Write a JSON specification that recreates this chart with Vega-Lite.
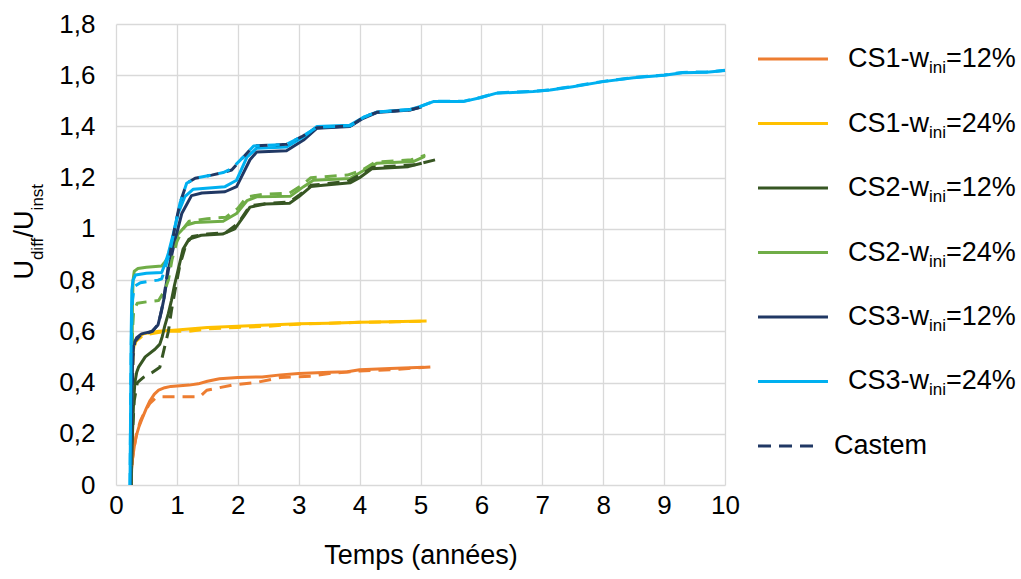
{
"$schema": "https://vega.github.io/schema/vega-lite/v6.json",
"width": 609, "height": 461,
"autosize": {"type": "none"},
"padding": {"left": 116, "top": 24, "right": 296, "bottom": 94},
"background": "white",
"config": {"view": {"stroke": null}, "font": "Liberation Sans"},
"datasets": {
"curves": [
{"s":"CS1-12","m":"CS","t":0.24,"v":0},{"s":"CS1-12","m":"CS","t":0.25,"v":0.05},{"s":"CS1-12","m":"CS","t":0.27,"v":0.1},{"s":"CS1-12","m":"CS","t":0.3,"v":0.15},{"s":"CS1-12","m":"CS","t":0.33,"v":0.19},{"s":"CS1-12","m":"CS","t":0.38,"v":0.23},{"s":"CS1-12","m":"CS","t":0.43,"v":0.26},{"s":"CS1-12","m":"CS","t":0.5,"v":0.3},{"s":"CS1-12","m":"CS","t":0.56,"v":0.33},{"s":"CS1-12","m":"CS","t":0.63,"v":0.355},{"s":"CS1-12","m":"CS","t":0.7,"v":0.37},{"s":"CS1-12","m":"CS","t":0.8,"v":0.38},{"s":"CS1-12","m":"CS","t":0.9,"v":0.385},{"s":"CS1-12","m":"CS","t":1.2,"v":0.39},{"s":"CS1-12","m":"CS","t":1.35,"v":0.395},{"s":"CS1-12","m":"CS","t":1.5,"v":0.405},{"s":"CS1-12","m":"CS","t":1.7,"v":0.415},{"s":"CS1-12","m":"CS","t":2.0,"v":0.42},{"s":"CS1-12","m":"CS","t":2.4,"v":0.422},{"s":"CS1-12","m":"CS","t":2.7,"v":0.43},{"s":"CS1-12","m":"CS","t":3.0,"v":0.435},{"s":"CS1-12","m":"CS","t":3.5,"v":0.44},{"s":"CS1-12","m":"CS","t":3.8,"v":0.442},{"s":"CS1-12","m":"CS","t":4.0,"v":0.45},{"s":"CS1-12","m":"CS","t":4.5,"v":0.455},{"s":"CS1-12","m":"CS","t":5.05,"v":0.46},
{"s":"CS1-24","m":"CS","t":0.24,"v":0},{"s":"CS1-24","m":"CS","t":0.25,"v":0.2},{"s":"CS1-24","m":"CS","t":0.26,"v":0.4},{"s":"CS1-24","m":"CS","t":0.27,"v":0.5},{"s":"CS1-24","m":"CS","t":0.3,"v":0.55},{"s":"CS1-24","m":"CS","t":0.36,"v":0.575},{"s":"CS1-24","m":"CS","t":0.45,"v":0.59},{"s":"CS1-24","m":"CS","t":0.7,"v":0.6},{"s":"CS1-24","m":"CS","t":1.0,"v":0.605},{"s":"CS1-24","m":"CS","t":1.5,"v":0.615},{"s":"CS1-24","m":"CS","t":2.0,"v":0.62},{"s":"CS1-24","m":"CS","t":2.5,"v":0.625},{"s":"CS1-24","m":"CS","t":3.0,"v":0.63},{"s":"CS1-24","m":"CS","t":3.5,"v":0.632},{"s":"CS1-24","m":"CS","t":4.0,"v":0.635},{"s":"CS1-24","m":"CS","t":4.5,"v":0.637},{"s":"CS1-24","m":"CS","t":5.1,"v":0.64},
{"s":"CS2-12","m":"CS","t":0.25,"v":0},{"s":"CS2-12","m":"CS","t":0.27,"v":0.2},{"s":"CS2-12","m":"CS","t":0.29,"v":0.33},{"s":"CS2-12","m":"CS","t":0.31,"v":0.4},{"s":"CS2-12","m":"CS","t":0.34,"v":0.44},{"s":"CS2-12","m":"CS","t":0.37,"v":0.46},{"s":"CS2-12","m":"CS","t":0.48,"v":0.5},{"s":"CS2-12","m":"CS","t":0.64,"v":0.53},{"s":"CS2-12","m":"CS","t":0.72,"v":0.55},{"s":"CS2-12","m":"CS","t":0.76,"v":0.58},{"s":"CS2-12","m":"CS","t":0.8,"v":0.62},{"s":"CS2-12","m":"CS","t":0.86,"v":0.67},{"s":"CS2-12","m":"CS","t":0.91,"v":0.72},{"s":"CS2-12","m":"CS","t":0.96,"v":0.78},{"s":"CS2-12","m":"CS","t":1.02,"v":0.84},{"s":"CS2-12","m":"CS","t":1.1,"v":0.92},{"s":"CS2-12","m":"CS","t":1.2,"v":0.96},{"s":"CS2-12","m":"CS","t":1.4,"v":0.975},{"s":"CS2-12","m":"CS","t":1.75,"v":0.98},{"s":"CS2-12","m":"CS","t":1.95,"v":1.0},{"s":"CS2-12","m":"CS","t":2.1,"v":1.05},{"s":"CS2-12","m":"CS","t":2.2,"v":1.085},{"s":"CS2-12","m":"CS","t":2.45,"v":1.097},{"s":"CS2-12","m":"CS","t":2.85,"v":1.1},{"s":"CS2-12","m":"CS","t":3.0,"v":1.125},{"s":"CS2-12","m":"CS","t":3.2,"v":1.165},{"s":"CS2-12","m":"CS","t":3.4,"v":1.17},{"s":"CS2-12","m":"CS","t":3.85,"v":1.18},{"s":"CS2-12","m":"CS","t":4.0,"v":1.2},{"s":"CS2-12","m":"CS","t":4.2,"v":1.235},{"s":"CS2-12","m":"CS","t":4.8,"v":1.243},{"s":"CS2-12","m":"CS","t":5.02,"v":1.256},
{"s":"CS2-24","m":"CS","t":0.24,"v":0},{"s":"CS2-24","m":"CS","t":0.26,"v":0.4},{"s":"CS2-24","m":"CS","t":0.27,"v":0.7},{"s":"CS2-24","m":"CS","t":0.28,"v":0.8},{"s":"CS2-24","m":"CS","t":0.3,"v":0.835},{"s":"CS2-24","m":"CS","t":0.36,"v":0.845},{"s":"CS2-24","m":"CS","t":0.5,"v":0.85},{"s":"CS2-24","m":"CS","t":0.75,"v":0.855},{"s":"CS2-24","m":"CS","t":0.8,"v":0.87},{"s":"CS2-24","m":"CS","t":0.86,"v":0.89},{"s":"CS2-24","m":"CS","t":0.94,"v":0.94},{"s":"CS2-24","m":"CS","t":1.02,"v":0.98},{"s":"CS2-24","m":"CS","t":1.16,"v":1.015},{"s":"CS2-24","m":"CS","t":1.3,"v":1.025},{"s":"CS2-24","m":"CS","t":1.76,"v":1.03},{"s":"CS2-24","m":"CS","t":1.98,"v":1.06},{"s":"CS2-24","m":"CS","t":2.15,"v":1.11},{"s":"CS2-24","m":"CS","t":2.31,"v":1.125},{"s":"CS2-24","m":"CS","t":2.86,"v":1.127},{"s":"CS2-24","m":"CS","t":3.08,"v":1.165},{"s":"CS2-24","m":"CS","t":3.24,"v":1.19},{"s":"CS2-24","m":"CS","t":3.84,"v":1.197},{"s":"CS2-24","m":"CS","t":4.06,"v":1.227},{"s":"CS2-24","m":"CS","t":4.28,"v":1.256},{"s":"CS2-24","m":"CS","t":4.88,"v":1.263},{"s":"CS2-24","m":"CS","t":5.07,"v":1.283},
{"s":"CS3-12","m":"CS","t":0.24,"v":0},{"s":"CS3-12","m":"CS","t":0.25,"v":0.15},{"s":"CS3-12","m":"CS","t":0.26,"v":0.35},{"s":"CS3-12","m":"CS","t":0.27,"v":0.47},{"s":"CS3-12","m":"CS","t":0.29,"v":0.55},{"s":"CS3-12","m":"CS","t":0.34,"v":0.575},{"s":"CS3-12","m":"CS","t":0.42,"v":0.59},{"s":"CS3-12","m":"CS","t":0.59,"v":0.6},{"s":"CS3-12","m":"CS","t":0.69,"v":0.625},{"s":"CS3-12","m":"CS","t":0.75,"v":0.683},{"s":"CS3-12","m":"CS","t":0.79,"v":0.73},{"s":"CS3-12","m":"CS","t":0.86,"v":0.84},{"s":"CS3-12","m":"CS","t":0.97,"v":0.957},{"s":"CS3-12","m":"CS","t":1.08,"v":1.06},{"s":"CS3-12","m":"CS","t":1.24,"v":1.13},{"s":"CS3-12","m":"CS","t":1.41,"v":1.14},{"s":"CS3-12","m":"CS","t":1.79,"v":1.145},{"s":"CS3-12","m":"CS","t":1.98,"v":1.165},{"s":"CS3-12","m":"CS","t":2.2,"v":1.27},{"s":"CS3-12","m":"CS","t":2.31,"v":1.3},{"s":"CS3-12","m":"CS","t":2.8,"v":1.305},{"s":"CS3-12","m":"CS","t":3.08,"v":1.347},{"s":"CS3-12","m":"CS","t":3.3,"v":1.393},{"s":"CS3-12","m":"CS","t":3.84,"v":1.4},{"s":"CS3-12","m":"CS","t":4.06,"v":1.432},{"s":"CS3-12","m":"CS","t":4.28,"v":1.454},{"s":"CS3-12","m":"CS","t":4.83,"v":1.464},{"s":"CS3-12","m":"CS","t":5.02,"v":1.477},
{"s":"CS3-24","m":"CS","t":0.23,"v":0},{"s":"CS3-24","m":"CS","t":0.24,"v":0.3},{"s":"CS3-24","m":"CS","t":0.25,"v":0.6},{"s":"CS3-24","m":"CS","t":0.26,"v":0.76},{"s":"CS3-24","m":"CS","t":0.28,"v":0.8},{"s":"CS3-24","m":"CS","t":0.32,"v":0.82},{"s":"CS3-24","m":"CS","t":0.5,"v":0.827},{"s":"CS3-24","m":"CS","t":0.75,"v":0.83},{"s":"CS3-24","m":"CS","t":0.8,"v":0.86},{"s":"CS3-24","m":"CS","t":0.86,"v":0.905},{"s":"CS3-24","m":"CS","t":0.94,"v":0.98},{"s":"CS3-24","m":"CS","t":1.02,"v":1.06},{"s":"CS3-24","m":"CS","t":1.13,"v":1.126},{"s":"CS3-24","m":"CS","t":1.27,"v":1.155},{"s":"CS3-24","m":"CS","t":1.79,"v":1.165},{"s":"CS3-24","m":"CS","t":1.98,"v":1.19},{"s":"CS3-24","m":"CS","t":2.15,"v":1.28},{"s":"CS3-24","m":"CS","t":2.31,"v":1.315},{"s":"CS3-24","m":"CS","t":2.8,"v":1.32},{"s":"CS3-24","m":"CS","t":3.08,"v":1.36},{"s":"CS3-24","m":"CS","t":3.3,"v":1.4},{"s":"CS3-24","m":"CS","t":3.84,"v":1.405},{"s":"CS3-24","m":"CS","t":4.06,"v":1.435},{"s":"CS3-24","m":"CS","t":4.28,"v":1.456},{"s":"CS3-24","m":"CS","t":4.83,"v":1.466},{"s":"CS3-24","m":"CS","t":5.0,"v":1.478},{"s":"CS3-24","m":"CS","t":5.21,"v":1.497},{"s":"CS3-24","m":"CS","t":5.7,"v":1.497},{"s":"CS3-24","m":"CS","t":5.98,"v":1.512},{"s":"CS3-24","m":"CS","t":6.25,"v":1.53},{"s":"CS3-24","m":"CS","t":6.85,"v":1.536},{"s":"CS3-24","m":"CS","t":7.13,"v":1.542},{"s":"CS3-24","m":"CS","t":7.5,"v":1.555},{"s":"CS3-24","m":"CS","t":8.0,"v":1.575},{"s":"CS3-24","m":"CS","t":8.5,"v":1.59},{"s":"CS3-24","m":"CS","t":9.0,"v":1.6},{"s":"CS3-24","m":"CS","t":9.3,"v":1.61},{"s":"CS3-24","m":"CS","t":9.7,"v":1.612},{"s":"CS3-24","m":"CS","t":10,"v":1.618},
{"s":"CS1-12","m":"Castem","t":0.24,"v":0},{"s":"CS1-12","m":"Castem","t":0.25,"v":0.05},{"s":"CS1-12","m":"Castem","t":0.27,"v":0.1},{"s":"CS1-12","m":"Castem","t":0.3,"v":0.15},{"s":"CS1-12","m":"Castem","t":0.34,"v":0.2},{"s":"CS1-12","m":"Castem","t":0.4,"v":0.25},{"s":"CS1-12","m":"Castem","t":0.48,"v":0.29},{"s":"CS1-12","m":"Castem","t":0.56,"v":0.32},{"s":"CS1-12","m":"Castem","t":0.65,"v":0.34},{"s":"CS1-12","m":"Castem","t":0.75,"v":0.345},{"s":"CS1-12","m":"Castem","t":1.38,"v":0.345},{"s":"CS1-12","m":"Castem","t":1.49,"v":0.37},{"s":"CS1-12","m":"Castem","t":1.7,"v":0.38},{"s":"CS1-12","m":"Castem","t":1.9,"v":0.39},{"s":"CS1-12","m":"Castem","t":2.3,"v":0.4},{"s":"CS1-12","m":"Castem","t":2.7,"v":0.42},{"s":"CS1-12","m":"Castem","t":3.2,"v":0.425},{"s":"CS1-12","m":"Castem","t":3.5,"v":0.435},{"s":"CS1-12","m":"Castem","t":4.0,"v":0.445},{"s":"CS1-12","m":"Castem","t":4.5,"v":0.45},{"s":"CS1-12","m":"Castem","t":4.8,"v":0.455},{"s":"CS1-12","m":"Castem","t":5.25,"v":0.462},
{"s":"CS1-24","m":"Castem","t":0.24,"v":0},{"s":"CS1-24","m":"Castem","t":0.26,"v":0.3},{"s":"CS1-24","m":"Castem","t":0.28,"v":0.5},{"s":"CS1-24","m":"Castem","t":0.32,"v":0.56},{"s":"CS1-24","m":"Castem","t":0.45,"v":0.585},{"s":"CS1-24","m":"Castem","t":0.8,"v":0.6},{"s":"CS1-24","m":"Castem","t":1.2,"v":0.6},{"s":"CS1-24","m":"Castem","t":1.5,"v":0.61},{"s":"CS1-24","m":"Castem","t":2.0,"v":0.615},{"s":"CS1-24","m":"Castem","t":2.5,"v":0.62},{"s":"CS1-24","m":"Castem","t":3.0,"v":0.628},{"s":"CS1-24","m":"Castem","t":3.5,"v":0.632},{"s":"CS1-24","m":"Castem","t":4.0,"v":0.635},{"s":"CS1-24","m":"Castem","t":4.6,"v":0.637},{"s":"CS1-24","m":"Castem","t":5.1,"v":0.64},
{"s":"CS2-12","m":"Castem","t":0.25,"v":0},{"s":"CS2-12","m":"Castem","t":0.27,"v":0.2},{"s":"CS2-12","m":"Castem","t":0.3,"v":0.33},{"s":"CS2-12","m":"Castem","t":0.35,"v":0.4},{"s":"CS2-12","m":"Castem","t":0.45,"v":0.42},{"s":"CS2-12","m":"Castem","t":0.6,"v":0.44},{"s":"CS2-12","m":"Castem","t":0.72,"v":0.46},{"s":"CS2-12","m":"Castem","t":0.8,"v":0.54},{"s":"CS2-12","m":"Castem","t":0.86,"v":0.6},{"s":"CS2-12","m":"Castem","t":0.91,"v":0.68},{"s":"CS2-12","m":"Castem","t":0.97,"v":0.76},{"s":"CS2-12","m":"Castem","t":1.05,"v":0.86},{"s":"CS2-12","m":"Castem","t":1.15,"v":0.94},{"s":"CS2-12","m":"Castem","t":1.25,"v":0.97},{"s":"CS2-12","m":"Castem","t":1.5,"v":0.98},{"s":"CS2-12","m":"Castem","t":1.8,"v":0.985},{"s":"CS2-12","m":"Castem","t":2.0,"v":1.02},{"s":"CS2-12","m":"Castem","t":2.2,"v":1.09},{"s":"CS2-12","m":"Castem","t":2.5,"v":1.1},{"s":"CS2-12","m":"Castem","t":2.85,"v":1.105},{"s":"CS2-12","m":"Castem","t":3.0,"v":1.13},{"s":"CS2-12","m":"Castem","t":3.2,"v":1.17},{"s":"CS2-12","m":"Castem","t":3.8,"v":1.185},{"s":"CS2-12","m":"Castem","t":4.0,"v":1.21},{"s":"CS2-12","m":"Castem","t":4.2,"v":1.24},{"s":"CS2-12","m":"Castem","t":4.9,"v":1.25},{"s":"CS2-12","m":"Castem","t":5.25,"v":1.27},
{"s":"CS2-24","m":"Castem","t":0.24,"v":0},{"s":"CS2-24","m":"Castem","t":0.26,"v":0.3},{"s":"CS2-24","m":"Castem","t":0.27,"v":0.6},{"s":"CS2-24","m":"Castem","t":0.29,"v":0.68},{"s":"CS2-24","m":"Castem","t":0.35,"v":0.71},{"s":"CS2-24","m":"Castem","t":0.5,"v":0.715},{"s":"CS2-24","m":"Castem","t":0.7,"v":0.72},{"s":"CS2-24","m":"Castem","t":0.8,"v":0.76},{"s":"CS2-24","m":"Castem","t":0.86,"v":0.8},{"s":"CS2-24","m":"Castem","t":0.92,"v":0.88},{"s":"CS2-24","m":"Castem","t":1.0,"v":0.95},{"s":"CS2-24","m":"Castem","t":1.1,"v":1.0},{"s":"CS2-24","m":"Castem","t":1.2,"v":1.03},{"s":"CS2-24","m":"Castem","t":1.5,"v":1.04},{"s":"CS2-24","m":"Castem","t":1.8,"v":1.045},{"s":"CS2-24","m":"Castem","t":2.0,"v":1.08},{"s":"CS2-24","m":"Castem","t":2.15,"v":1.125},{"s":"CS2-24","m":"Castem","t":2.4,"v":1.135},{"s":"CS2-24","m":"Castem","t":2.85,"v":1.14},{"s":"CS2-24","m":"Castem","t":3.05,"v":1.17},{"s":"CS2-24","m":"Castem","t":3.2,"v":1.2},{"s":"CS2-24","m":"Castem","t":3.8,"v":1.21},{"s":"CS2-24","m":"Castem","t":4.05,"v":1.23},{"s":"CS2-24","m":"Castem","t":4.25,"v":1.26},{"s":"CS2-24","m":"Castem","t":4.85,"v":1.27},{"s":"CS2-24","m":"Castem","t":5.08,"v":1.288},
{"s":"CS3-12","m":"Castem","t":0.24,"v":0},{"s":"CS3-12","m":"Castem","t":0.26,"v":0.3},{"s":"CS3-12","m":"Castem","t":0.28,"v":0.5},{"s":"CS3-12","m":"Castem","t":0.31,"v":0.56},{"s":"CS3-12","m":"Castem","t":0.4,"v":0.585},{"s":"CS3-12","m":"Castem","t":0.6,"v":0.6},{"s":"CS3-12","m":"Castem","t":0.7,"v":0.63},{"s":"CS3-12","m":"Castem","t":0.78,"v":0.72},{"s":"CS3-12","m":"Castem","t":0.85,"v":0.84},{"s":"CS3-12","m":"Castem","t":0.9,"v":0.92},{"s":"CS3-12","m":"Castem","t":0.97,"v":1.01},{"s":"CS3-12","m":"Castem","t":1.05,"v":1.1},{"s":"CS3-12","m":"Castem","t":1.16,"v":1.178},{"s":"CS3-12","m":"Castem","t":1.3,"v":1.198},{"s":"CS3-12","m":"Castem","t":1.57,"v":1.21},{"s":"CS3-12","m":"Castem","t":1.76,"v":1.22},{"s":"CS3-12","m":"Castem","t":1.9,"v":1.23},{"s":"CS3-12","m":"Castem","t":2.09,"v":1.28},{"s":"CS3-12","m":"Castem","t":2.26,"v":1.324},{"s":"CS3-12","m":"Castem","t":2.8,"v":1.33},{"s":"CS3-12","m":"Castem","t":3.05,"v":1.36},{"s":"CS3-12","m":"Castem","t":3.3,"v":1.395},{"s":"CS3-12","m":"Castem","t":3.85,"v":1.402},{"s":"CS3-12","m":"Castem","t":4.06,"v":1.435},{"s":"CS3-12","m":"Castem","t":4.28,"v":1.455},{"s":"CS3-12","m":"Castem","t":4.83,"v":1.465},{"s":"CS3-12","m":"Castem","t":5.05,"v":1.478},
{"s":"CS3-24","m":"Castem","t":0.23,"v":0},{"s":"CS3-24","m":"Castem","t":0.24,"v":0.3},{"s":"CS3-24","m":"Castem","t":0.25,"v":0.55},{"s":"CS3-24","m":"Castem","t":0.27,"v":0.72},{"s":"CS3-24","m":"Castem","t":0.3,"v":0.775},{"s":"CS3-24","m":"Castem","t":0.4,"v":0.79},{"s":"CS3-24","m":"Castem","t":0.69,"v":0.8},{"s":"CS3-24","m":"Castem","t":0.75,"v":0.805},{"s":"CS3-24","m":"Castem","t":0.8,"v":0.84},{"s":"CS3-24","m":"Castem","t":0.89,"v":0.918},{"s":"CS3-24","m":"Castem","t":0.97,"v":1.01},{"s":"CS3-24","m":"Castem","t":1.05,"v":1.1},{"s":"CS3-24","m":"Castem","t":1.16,"v":1.178},{"s":"CS3-24","m":"Castem","t":1.3,"v":1.198},{"s":"CS3-24","m":"Castem","t":1.57,"v":1.21},{"s":"CS3-24","m":"Castem","t":1.76,"v":1.22},{"s":"CS3-24","m":"Castem","t":1.9,"v":1.235},{"s":"CS3-24","m":"Castem","t":2.09,"v":1.28},{"s":"CS3-24","m":"Castem","t":2.26,"v":1.324},{"s":"CS3-24","m":"Castem","t":2.8,"v":1.33},{"s":"CS3-24","m":"Castem","t":3.05,"v":1.36},{"s":"CS3-24","m":"Castem","t":3.3,"v":1.397},{"s":"CS3-24","m":"Castem","t":3.85,"v":1.403},{"s":"CS3-24","m":"Castem","t":4.06,"v":1.435},{"s":"CS3-24","m":"Castem","t":4.28,"v":1.456},{"s":"CS3-24","m":"Castem","t":4.83,"v":1.466},{"s":"CS3-24","m":"Castem","t":5.0,"v":1.478},{"s":"CS3-24","m":"Castem","t":5.21,"v":1.498},{"s":"CS3-24","m":"Castem","t":5.7,"v":1.498},{"s":"CS3-24","m":"Castem","t":5.98,"v":1.513},{"s":"CS3-24","m":"Castem","t":6.25,"v":1.531},{"s":"CS3-24","m":"Castem","t":6.85,"v":1.537},{"s":"CS3-24","m":"Castem","t":7.13,"v":1.543},{"s":"CS3-24","m":"Castem","t":7.5,"v":1.556},{"s":"CS3-24","m":"Castem","t":8.0,"v":1.576},{"s":"CS3-24","m":"Castem","t":8.5,"v":1.591},{"s":"CS3-24","m":"Castem","t":9.0,"v":1.601},{"s":"CS3-24","m":"Castem","t":9.3,"v":1.611},{"s":"CS3-24","m":"Castem","t":9.7,"v":1.613},{"s":"CS3-24","m":"Castem","t":10,"v":1.619}
],
"legend": [
{"s":"CS1-12","a":"CS1-w","sub":"ini","b":"=12%"},
{"s":"CS1-24","a":"CS1-w","sub":"ini","b":"=24%"},
{"s":"CS2-12","a":"CS2-w","sub":"ini","b":"=12%"},
{"s":"CS2-24","a":"CS2-w","sub":"ini","b":"=24%"},
{"s":"CS3-12","a":"CS3-w","sub":"ini","b":"=12%"},
{"s":"CS3-24","a":"CS3-w","sub":"ini","b":"=24%"},
{"s":"Castem","a":"Castem","sub":"","b":""}
]
},
"layer": [
{"layer": [
{"data": {"name": "curves"}, "transform": [{"filter": "datum.m === 'CS'"}],
 "mark": {"type": "line", "strokeWidth": 3, "strokeJoin": "round"},
 "encoding": {
  "x": {"field": "t", "type": "quantitative", "scale": {"domain": [0, 10], "nice": false, "zero": false},
   "axis": {"values": [0,1,2,3,4,5,6,7,8,9,10], "format": "d", "grid": true, "gridColor": "#d9d9d9", "gridWidth": 1.3, "domain": false, "ticks": false, "labelFontSize": 26, "labelColor": "#000000", "labelPadding": 7, "labelFlush": false, "title": "Temps (années)", "titleFontSize": 27, "titleFontWeight": "normal", "titleColor": "#000000", "titlePadding": 24}},
  "y": {"field": "v", "type": "quantitative", "scale": {"domain": [0, 1.8], "nice": false},
   "axis": {"values": [0,0.2,0.4,0.6,0.8,1,1.2,1.4,1.6,1.8], "labelExpr": "replace(toString(datum.value), '.', ',')", "grid": true, "gridColor": "#d9d9d9", "gridWidth": 1.3, "domain": false, "ticks": false, "labelFontSize": 26, "labelColor": "#000000", "labelPadding": 21, "title": null}},
  "color": {"field": "s", "type": "nominal", "legend": null, "scale": {"domain": ["CS1-12","CS1-24","CS2-12","CS2-24","CS3-12","CS3-24","Castem"], "range": ["#ED7D31","#FFC000","#375623","#70AD47","#203864","#00B0F0","#203864"]}}
 }},
{"data": {"name": "curves"}, "transform": [{"filter": "datum.m === 'Castem'"}],
 "mark": {"type": "line", "strokeWidth": 3, "strokeJoin": "round", "strokeDash": [12, 8]},
 "encoding": {
  "x": {"field": "t", "type": "quantitative"},
  "y": {"field": "v", "type": "quantitative"},
  "color": {"field": "s", "type": "nominal", "legend": null}
 }},
{"data": {"values": [{"k": 1}]}, "mark": {"type": "text", "text": "U", "angle": 270, "align": "left", "baseline": "alphabetic", "fontSize": 27, "dy": -83.5, "dx": 0, "color": "#000000"},
 "encoding": {"x": {"datum": 0, "type": "quantitative"}, "y": {"datum": 0.802, "type": "quantitative"}}},
{"data": {"values": [{"k": 1}]}, "mark": {"type": "text", "text": "diff", "angle": 270, "align": "left", "baseline": "alphabetic", "fontSize": 17, "dy": -73.5, "dx": 19.5, "color": "#000000"},
 "encoding": {"x": {"datum": 0, "type": "quantitative"}, "y": {"datum": 0.802, "type": "quantitative"}}},
{"data": {"values": [{"k": 1}]}, "mark": {"type": "text", "text": "/U", "angle": 270, "align": "left", "baseline": "alphabetic", "fontSize": 27, "dy": -83.5, "dx": 42.2, "color": "#000000"},
 "encoding": {"x": {"datum": 0, "type": "quantitative"}, "y": {"datum": 0.802, "type": "quantitative"}}},
{"data": {"values": [{"k": 1}]}, "mark": {"type": "text", "text": "inst", "angle": 270, "align": "left", "baseline": "alphabetic", "fontSize": 17, "dy": -73.5, "dx": 69.2, "color": "#000000"},
 "encoding": {"x": {"datum": 0, "type": "quantitative"}, "y": {"datum": 0.802, "type": "quantitative"}}}
]},
{"data": {"name": "legend"},
 "layer": [
{"transform": [{"filter": "datum.s !== 'Castem'"}],
 "mark": {"type": "rule", "strokeWidth": 3},
 "encoding": {
  "x": {"datum": 10.542, "type": "quantitative"}, "x2": {"datum": 11.691},
  "y": {"field": "s", "type": "nominal", "sort": ["CS1-12","CS1-24","CS2-12","CS2-24","CS3-12","CS3-24","Castem"], "scale": {"type": "point", "padding": 0.574, "align": 0.473}, "axis": null},
  "color": {"field": "s", "type": "nominal", "legend": null}
 }},
{"transform": [{"filter": "datum.s === 'Castem'"}],
 "mark": {"type": "rule", "strokeWidth": 3, "strokeDash": [13, 8]},
 "encoding": {
  "x": {"datum": 10.542, "type": "quantitative"}, "x2": {"datum": 11.478},
  "y": {"field": "s", "type": "nominal"},
  "color": {"field": "s", "type": "nominal", "legend": null}
 }},
{"transform": [{"filter": "datum.s !== 'Castem'"}],
 "mark": {"type": "text", "align": "left", "baseline": "alphabetic", "fontSize": 27, "dy": 8, "color": "#000000"},
 "encoding": {"x": {"datum": 12.02, "type": "quantitative"}, "y": {"field": "s", "type": "nominal"}, "text": {"field": "a"}}},
{"transform": [{"filter": "datum.s !== 'Castem'"}],
 "mark": {"type": "text", "align": "left", "baseline": "alphabetic", "fontSize": 17, "dy": 14, "dx": 81, "color": "#000000"},
 "encoding": {"x": {"datum": 12.02, "type": "quantitative"}, "y": {"field": "s", "type": "nominal"}, "text": {"field": "sub"}}},
{"transform": [{"filter": "datum.s !== 'Castem'"}],
 "mark": {"type": "text", "align": "left", "baseline": "alphabetic", "fontSize": 27, "dy": 8, "dx": 98, "color": "#000000"},
 "encoding": {"x": {"datum": 12.02, "type": "quantitative"}, "y": {"field": "s", "type": "nominal"}, "text": {"field": "b"}}},
{"transform": [{"filter": "datum.s === 'Castem'"}],
 "mark": {"type": "text", "align": "left", "baseline": "alphabetic", "fontSize": 27, "dy": 8, "color": "#000000"},
 "encoding": {"x": {"datum": 11.79, "type": "quantitative"}, "y": {"field": "s", "type": "nominal"}, "text": {"field": "a"}}}
 ]}
],
"resolve": {"scale": {"y": "independent"}}
}
